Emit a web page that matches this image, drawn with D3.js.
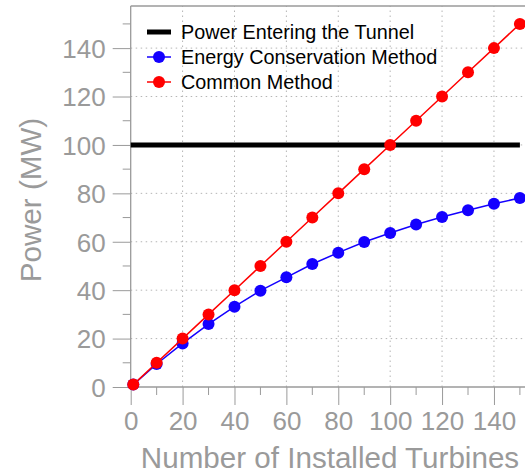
<!DOCTYPE html>
<html>
<head>
<meta charset="utf-8">
<script src="https://cdn.jsdelivr.net/npm/d3@7"></script>
<style>
  body { margin: 0; background: #fff; }
  text { font-family: "Liberation Sans", Arial, Helvetica, sans-serif; }
</style>
</head>
<body>
<div id="chart"></div>
<script>
// data
const turbines = [1, 10, 20, 30, 40, 50, 60, 70, 80, 90, 100, 110, 120, 130, 140, 150];
const energyConservation = [1, 9.5, 18, 26, 33.2, 39.8, 45.3, 50.8, 55.5, 59.9, 63.6, 67.1, 70.2, 73, 75.7, 78.1];
const commonMethod = [1, 10, 20, 30, 40, 50, 60, 70, 80, 90, 100, 110, 120, 130, 140, 150];
const tunnelPower = 100;
const xTicks = [0, 20, 40, 60, 80, 100, 120, 140];
const yTicks = [0, 20, 40, 60, 80, 100, 120, 140];
const seriesNames = ["Power Entering the Tunnel", "Energy Conservation Method", "Common Method"];

let width = 525, height = 473;
let gray = "#9a9a9a";

let svg = d3.select("#chart").append("svg")
    .attr("width", width)
    .attr("height", height);

let x = d3.scaleLinear()
    .domain([0, 150.5])
    .range([130.7, 521.2]);

let y = d3.scaleLinear()
    .domain([0, 157.4])
    .range([387, 6]);

// grid (dotted)
svg.append("g")
    .selectAll("line")
    .data(xTicks.slice(1))
    .enter()
    .append("line")
    .attr("x1", d => x(d)).attr("x2", d => x(d))
    .attr("y1", y(0)).attr("y2", y.range()[1])
    .attr("stroke", "#b5b5b5")
    .attr("stroke-width", 1)
    .attr("stroke-dasharray", "1.5,3.5");

svg.append("g")
    .selectAll("line")
    .data(yTicks.slice(1))
    .enter()
    .append("line")
    .attr("y1", d => y(d)).attr("y2", d => y(d))
    .attr("x1", x(0)).attr("x2", width)
    .attr("stroke", "#b5b5b5")
    .attr("stroke-width", 1)
    .attr("stroke-dasharray", "1.5,3.5");

// axes
let xAxis = d3.axisBottom(x)
    .tickValues(xTicks)
    .tickSize(18)
    .tickPadding(7);

let yAxis = d3.axisLeft(y)
    .tickValues(yTicks)
    .tickSize(18)
    .tickPadding(7);

let gx = svg.append("g")
    .attr("transform", `translate(0, ${y(0)})`)
    .call(xAxis);

let gy = svg.append("g")
    .attr("transform", `translate(${x(0)}, 0)`)
    .call(yAxis);

// minor ticks
gx.selectAll(".minor")
    .data(d3.range(10, 151, 20))
    .enter()
    .append("line")
    .attr("class", "minor")
    .attr("x1", d => x(d)).attr("x2", d => x(d))
    .attr("y1", 0).attr("y2", 8)
    .attr("stroke", gray);

gy.selectAll(".minor")
    .data(d3.range(10, 151, 20))
    .enter()
    .append("line")
    .attr("class", "minor")
    .attr("y1", d => y(d)).attr("y2", d => y(d))
    .attr("x1", 0).attr("x2", -8)
    .attr("stroke", gray);

[gx, gy].forEach(function(g){
    g.select(".domain").remove();
    g.selectAll(".tick line").attr("stroke", gray);
    g.selectAll(".tick text")
        .attr("fill", gray)
        .style("font-size", "26px");
});
gy.selectAll(".tick text").attr("dy", "0.36em");

// axis lines + top border
svg.append("line")
    .attr("x1", x(0)).attr("x2", width)
    .attr("y1", y(0)).attr("y2", y(0))
    .attr("stroke", gray).attr("stroke-width", 1.3);
svg.append("line")
    .attr("x1", x(0)).attr("x2", x(0))
    .attr("y1", y(0)).attr("y2", y.range()[1])
    .attr("stroke", gray).attr("stroke-width", 1.3);
svg.append("line")
    .attr("x1", x(0)).attr("x2", width)
    .attr("y1", y.range()[1]).attr("y2", y.range()[1])
    .attr("stroke", gray).attr("stroke-width", 1.3);

// axis titles
svg.append("text")
    .attr("x", 330)
    .attr("y", 468)
    .attr("text-anchor", "middle")
    .attr("fill", gray)
    .style("font-size", "29.6px")
    .text("Number of Installed Turbines");

svg.append("text")
    .attr("transform", "translate(41, 200) rotate(-90)")
    .attr("text-anchor", "middle")
    .attr("fill", gray)
    .style("font-size", "29.6px")
    .text("Power (MW)");

// power entering the tunnel
svg.append("line")
    .attr("x1", x(0)).attr("x2", x(150))
    .attr("y1", y(tunnelPower)).attr("y2", y(tunnelPower))
    .attr("stroke", "#000")
    .attr("stroke-width", 5);

let line = d3.line()
    .x((d, i) => x(turbines[i]))
    .y(d => y(d));

let series = [
    {values: energyConservation, color: "#1400ff"},
    {values: commonMethod, color: "#ff0000"}
];

series.forEach(function(s){
    svg.append("path")
        .datum(s.values)
        .attr("d", line)
        .attr("fill", "none")
        .attr("stroke", s.color)
        .attr("stroke-width", 1.5);

    svg.append("g")
        .selectAll("circle")
        .data(s.values)
        .enter()
        .append("circle")
        .attr("cx", (d, i) => x(turbines[i]))
        .attr("cy", d => y(d))
        .attr("r", 6)
        .attr("fill", s.color);
});

// legend
let legend = svg.append("g")
    .attr("transform", "translate(147, 32)");

let legendColors = ["#000", "#1400ff", "#ff0000"];

legendColors.forEach(function(c, i){
    let row = legend.append("g").attr("transform", `translate(0, ${i * 25})`);
    row.append("line")
        .attr("x1", 0).attr("x2", 24)
        .attr("stroke", c)
        .attr("stroke-width", i == 0 ? 5 : 1.5);
    if (i > 0) {
        row.append("circle")
            .attr("cx", 12).attr("r", 6)
            .attr("fill", c);
    }
    row.append("text")
        .attr("x", 34)
        .attr("y", 7)
        .attr("fill", "#000")
        .style("font-size", "19.8px")
        .text(seriesNames[i]);
});
</script>
</body>
</html>
